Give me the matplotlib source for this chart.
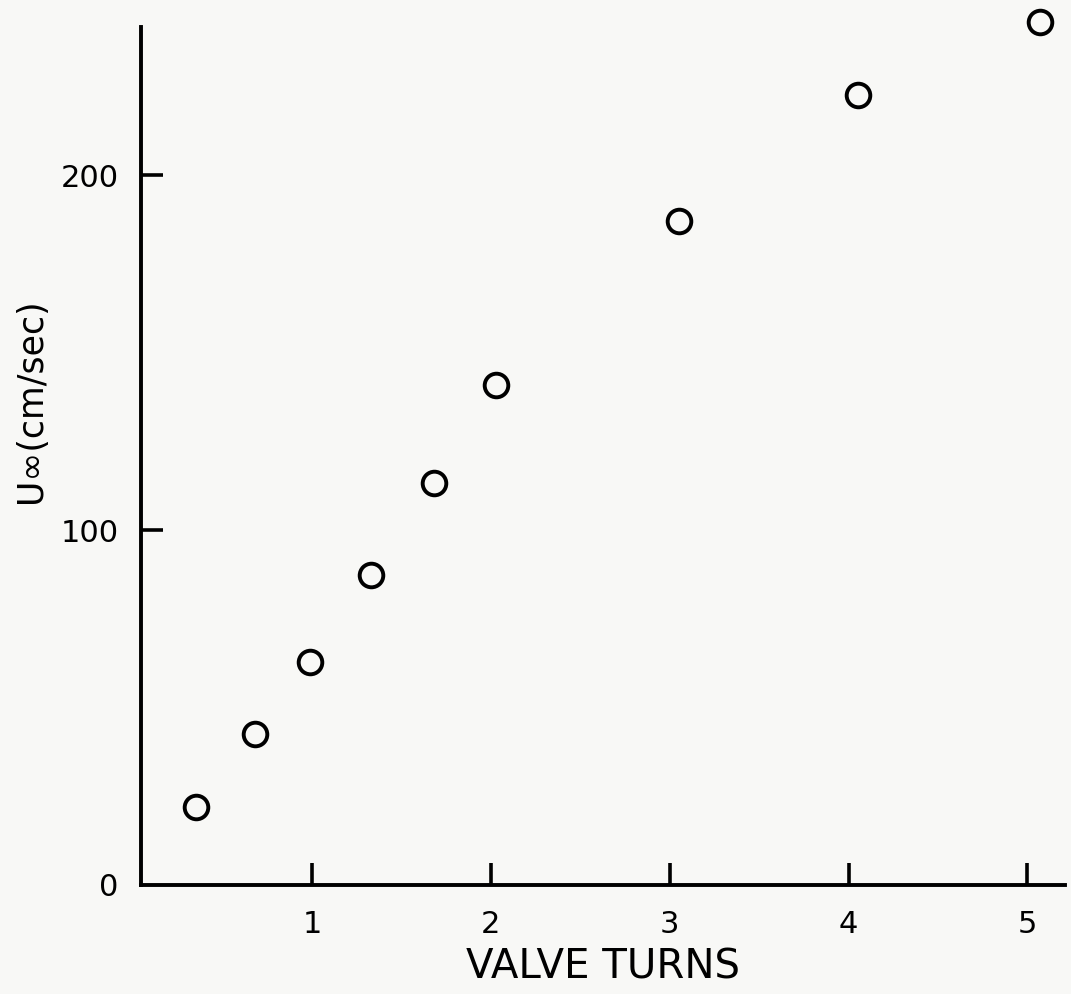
import matplotlib
matplotlib.use('Agg')
import matplotlib.pyplot as plt

# valve turns vs free-stream velocity
turns = [0.35, 0.68, 0.99, 1.33, 1.68, 2.03, 3.05, 4.05, 5.07]
u_inf = [22.0, 42.4, 62.7, 87.3, 113.3, 140.8, 187.1, 222.5, 243.2]

x_ticks = [1, 2, 3, 4, 5]
y_ticks = [0, 100, 200]

plt.rcParams['font.family'] = 'DejaVu Sans'

fig = plt.figure(figsize=(10.71, 9.94), dpi=100, facecolor='#f8f8f6')
ax = fig.add_axes([0.1314, 0.1097, 0.863, 0.8631])
ax.set_facecolor('#f8f8f6')

ax.plot(turns, u_inf, 'o', ms=17, mfc='none', mec='black', mew=2.8, clip_on=False)

ax.set_xlim(0.043, 5.21)
ax.set_ylim(0, 241.7)
for s in ('top', 'right'):
    ax.spines[s].set_visible(False)
for s in ('left', 'bottom'):
    ax.spines[s].set_linewidth(2.8)

ax.set_xticks(x_ticks)
ax.set_yticks(y_ticks)
ax.tick_params(axis='x', direction='in', length=16, width=2.6, pad=18, labelsize=22)
ax.tick_params(axis='y', direction='in', length=16, width=2.6, pad=16, labelsize=22)
ax.yaxis.get_major_ticks()[0].tick1line.set_visible(False)

ax.set_xlabel('VALVE TURNS', fontsize=29, labelpad=6)
ax.set_ylabel('U\u221e(cm/sec)', fontsize=25)
ax.yaxis.set_label_coords(-0.100, 0.565)

fig.savefig('out.png', dpi=100, facecolor=fig.get_facecolor())
